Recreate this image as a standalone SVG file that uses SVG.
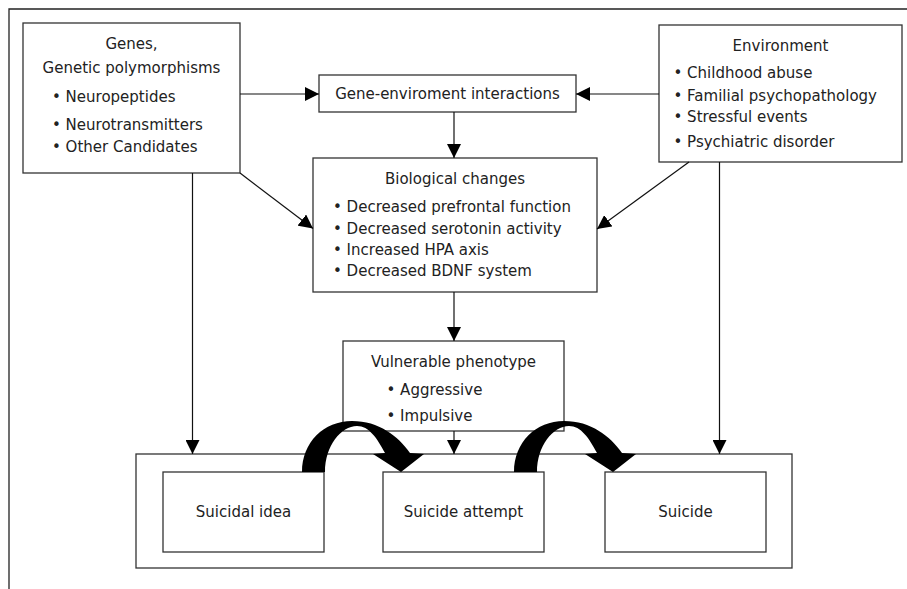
<svg xmlns="http://www.w3.org/2000/svg" width="907" height="589" viewBox="0 0 907 589">
<style>
.box{fill:#fff;stroke:#333;stroke-width:1.3}
.frame{fill:none;stroke:#222;stroke-width:1.3}
.t{font-family:"DejaVu Sans",sans-serif;font-size:15px;fill:#222}
.c{text-anchor:middle}
.ln{stroke:#111;stroke-width:1.2;fill:none}
.big{fill:#000;stroke:none}
</style>
<defs>
<marker id="ah" markerUnits="userSpaceOnUse" markerWidth="14" markerHeight="14" refX="14" refY="7" orient="auto">
<path d="M0,0 L14,7 L0,14 Z" fill="#000"/>
</marker>
<path id="curl" d="M302,472 C302,442 324,421 352,421 C379,421 398,436 410,453 L424,454 L401,472 L373,454 L385,453 C377,438 369,426 357,426 C341,426 325,446 325,472 Z"/>
</defs>
<g id="frame">
<path class="frame" d="M907,9 L9,9 L9,589"/>
</g>
<g id="outer-box"><rect class="box" x="136" y="454" width="656" height="114"/></g>
<g id="genes">
<rect class="box" x="23" y="23" width="217" height="150"/>
<text class="t c" x="131.5" y="49">Genes,</text>
<text class="t c" x="131.5" y="73">Genetic polymorphisms</text>
<text class="t" x="52" y="102">• Neuropeptides</text>
<text class="t" x="52" y="130">• Neurotransmitters</text>
<text class="t" x="52" y="152">• Other Candidates</text>
</g>
<g id="gene-env">
<rect class="box" x="319" y="75" width="257" height="37"/>
<text class="t c" x="447.5" y="98.5">Gene-enviroment interactions</text>
</g>
<g id="environment">
<rect class="box" x="659" y="25" width="243" height="137"/>
<text class="t c" x="780.5" y="50.5">Environment</text>
<text class="t" x="673.5" y="78">• Childhood abuse</text>
<text class="t" x="673.5" y="100.5">• Familial psychopathology</text>
<text class="t" x="673.5" y="121.5">• Stressful events</text>
<text class="t" x="673.5" y="147">• Psychiatric disorder</text>
</g>
<g id="biological">
<rect class="box" x="313" y="158" width="284" height="134"/>
<text class="t c" x="455" y="184">Biological changes</text>
<text class="t" x="333" y="211.5">• Decreased prefrontal function</text>
<text class="t" x="333" y="234">• Decreased serotonin activity</text>
<text class="t" x="333" y="255">• Increased HPA axis</text>
<text class="t" x="333" y="276">• Decreased BDNF system</text>
</g>
<g id="vulnerable">
<rect class="box" x="343" y="341" width="221" height="90"/>
<text class="t c" x="453.5" y="366.5">Vulnerable phenotype</text>
<text class="t" x="386.5" y="395">• Aggressive</text>
<text class="t" x="386.5" y="420.5">• Impulsive</text>
</g>
<g id="suicidal-idea">
<rect class="box" x="163" y="472" width="161" height="80"/>
<text class="t c" x="243.5" y="516.5">Suicidal idea</text>
</g>
<g id="suicide-attempt">
<rect class="box" x="383" y="472" width="161" height="80"/>
<text class="t c" x="463.5" y="516.5">Suicide attempt</text>
</g>
<g id="suicide">
<rect class="box" x="605" y="472" width="161" height="80"/>
<text class="t c" x="685.5" y="516.5">Suicide</text>
</g>
<g id="connectors">
<line class="ln" x1="240" y1="94" x2="319" y2="94" marker-end="url(#ah)"/>
<line class="ln" x1="659" y1="94" x2="576" y2="94" marker-end="url(#ah)"/>
<line class="ln" x1="454" y1="112" x2="454" y2="158" marker-end="url(#ah)"/>
<line class="ln" x1="240" y1="173" x2="313" y2="228.5" marker-end="url(#ah)"/>
<line class="ln" x1="689" y1="162" x2="597" y2="229" marker-end="url(#ah)"/>
<line class="ln" x1="454" y1="292" x2="454" y2="341" marker-end="url(#ah)"/>
<line class="ln" x1="454" y1="431" x2="454" y2="454" marker-end="url(#ah)"/>
<line class="ln" x1="192.5" y1="173" x2="192.5" y2="454" marker-end="url(#ah)"/>
<line class="ln" x1="719.5" y1="162" x2="719.5" y2="454" marker-end="url(#ah)"/>
<use href="#curl" class="big"/>
<use href="#curl" class="big" transform="translate(212,0)"/>
</g>
</svg>
